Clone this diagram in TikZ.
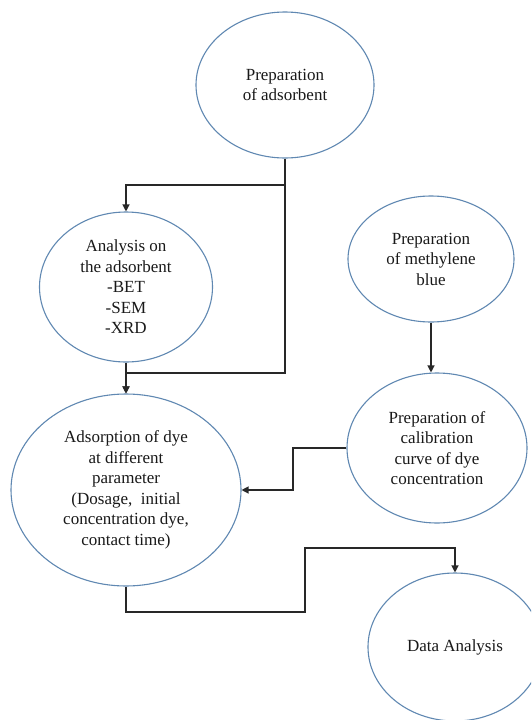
\documentclass[tikz,border=0pt]{standalone}
\usepackage{fontspec}
\setmainfont{Liberation Serif}
\newfontfamily\bubblefont{Liberation Serif}
\usetikzlibrary{shapes.geometric,arrows.meta}
\definecolor{ellblue}{RGB}{96,136,178}
\definecolor{linegray}{RGB}{40,40,40}
\tikzset{
  bubble/.style={ellipse, draw=ellblue, line width=1.1pt, fill=white, inner sep=0pt,
    align=center, text=black!90, font=\bubblefont\fontsize{17}{20.5}\selectfont},
  conn/.style={draw=linegray, line width=1.2pt},
  arr/.style={conn, -{Triangle[length=7pt,width=7pt]}}
}
\begin{document}
\begin{tikzpicture}[x=1pt,y=-1pt]
\clip (0,0) rectangle (531,720);
\fill[white] (0,0) rectangle (531,720);

\node[bubble, minimum width=178pt, minimum height=146pt] (prep) at (285,85) {Preparation\\of adsorbent};
\node[bubble, minimum width=173pt, minimum height=150pt] (anal) at (126,287) {Analysis on\\the adsorbent\\-BET\\-SEM\\-XRD};
\node[bubble, minimum width=166pt, minimum height=126pt] (meth) at (431,259) {Preparation\\of methylene\\blue};
\node[bubble, minimum width=180pt, minimum height=150pt] (cal) at (437,448) {Preparation of\\calibration\\curve of dye\\concentration};
\node[bubble, minimum width=230pt, minimum height=192pt] (ads) at (126,490) {Adsorption of dye\\at different\\parameter\\(Dosage,\ \ initial\\concentration dye,\\contact time)};
\node[bubble, minimum width=174pt, minimum height=148pt] (data) at (455,647) {Data Analysis};

\coordinate (j1) at (285,185);
\coordinate (j2) at (285,373);
\coordinate (j3) at (293,0);
\coordinate (j4) at (305,612);
\coordinate (j5) at (305,548);

\draw[arr] (prep.south) -- (j1) -| (anal.north);
\draw[arr] (j1) -- (j2) -| (ads.north);
\draw[arr] (anal.south) -- (ads.north);
\draw[arr] (meth.south) -- (meth.south |- cal.north);
\draw[arr] (cal.west) -- (cal.west -| j3) |- (ads.east);
\draw[arr] (ads.south) |- (j4) -- (j5) -| (data.north);
\end{tikzpicture}
\end{document}
